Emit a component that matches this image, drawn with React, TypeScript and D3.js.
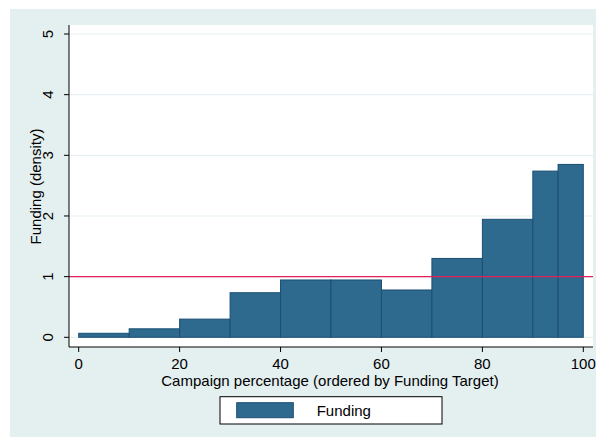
import React from "react";
import * as d3 from "d3";

const binStarts = [0, 10, 20, 30, 40, 50, 60, 70, 80, 90, 95];
const binEnds = [10, 20, 30, 40, 50, 60, 70, 80, 90, 95, 100];
const densities = [0.066, 0.14, 0.3, 0.735, 0.945, 0.945, 0.78, 1.3, 1.945, 2.74, 2.85];
const xTicks = [0, 20, 40, 60, 80, 100];
const yTicks = [0, 1, 2, 3, 4, 5];
const refLine = 1;

const W = 596;
const H = 437;
const plotL = 69;
const plotR = 593;
const plotT = 25;
const plotB = 347;

export default function App() {
  const x = d3.scaleLinear().domain([0, 100]).range([78.7, 583.3]);
  const y = d3.scaleLinear().domain([0, 5]).range([337.3, 34]);
  const font = "Helvetica, 'Liberation Sans', Arial, sans-serif";
  const barFill = "#2e6a8d";
  const barStroke = "#1b4e75";
  const fs = 15;

  return (
    <svg
      width={W}
      height={H}
      style={{ position: "absolute", left: 0, top: 0 }}
      fontFamily={font}
    >
      <rect x={0} y={0} width={W} height={H} fill="#ffffff" />
      <rect x={10} y={9} width={W - 10} height={H - 9} fill="#e4eff0" />
      <rect x={plotL} y={plotT} width={plotR - plotL} height={plotB - plotT} fill="#ffffff" />
      {yTicks.map((t) => (
        <line key={"g" + t} x1={plotL} x2={plotR} y1={y(t)} y2={y(t)} stroke="#e6eff1" strokeWidth={1.2} />
      ))}
      {densities.map((d, i) => (
        <rect
          key={i}
          x={x(binStarts[i])}
          y={y(d)}
          width={x(binEnds[i]) - x(binStarts[i])}
          height={y(0) - y(d)}
          fill={barFill}
          stroke={barStroke}
          strokeWidth={1}
        />
      ))}
      <line x1={plotL} x2={plotR} y1={y(refLine)} y2={y(refLine)} stroke="#e3205a" strokeWidth={1.2} />
      <line x1={plotL} x2={plotL} y1={plotT} y2={plotB} stroke="#000" strokeWidth={1} />
      {yTicks.map((t) => (
        <g key={"y" + t}>
          <line x1={plotL - 5} x2={plotL} y1={y(t)} y2={y(t)} stroke="#000" strokeWidth={1} />
          <text
            transform={`translate(${53},${y(t)}) rotate(-90)`}
            textAnchor="middle"
            fontSize={fs}
            fill="#000"
          >
            {t}
          </text>
        </g>
      ))}
      <text
        transform={`translate(${41},${186.5}) rotate(-90)`}
        textAnchor="middle"
        fontSize={fs}
        fill="#000"
      >
        Funding (density)
      </text>
      <line x1={plotL} x2={plotR} y1={plotB} y2={plotB} stroke="#000" strokeWidth={1} />
      {xTicks.map((t) => (
        <g key={"x" + t}>
          <line x1={x(t)} x2={x(t)} y1={plotB} y2={plotB + 5} stroke="#000" strokeWidth={1} />
          <text x={x(t)} y={369} textAnchor="middle" fontSize={fs} fill="#000">
            {t}
          </text>
        </g>
      ))}
      <text x={330} y={386} textAnchor="middle" fontSize={fs} fill="#000">
        Campaign percentage (ordered by Funding Target)
      </text>
      <rect x={220} y={396.7} width={222} height={27.3} fill="#ffffff" stroke="#000" strokeWidth={1} />
      <rect x={236.7} y={402.7} width={56.6} height={15} fill={barFill} stroke={barStroke} strokeWidth={1} />
      <text x={316.7} y={415.5} fontSize={fs} fill="#000">
        Funding
      </text>
    </svg>
  );
}
